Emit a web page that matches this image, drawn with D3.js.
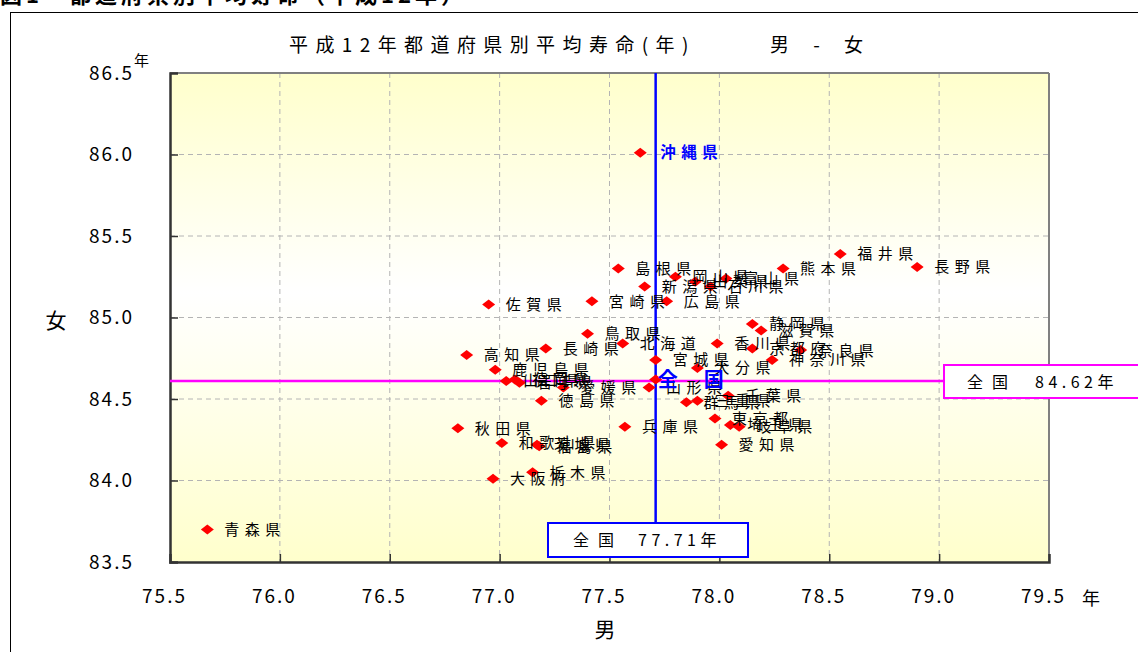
<!DOCTYPE html>
<html><head><meta charset="utf-8">
<script src="https://cdn.jsdelivr.net/npm/d3@7"></script>
<style>
html,body{margin:0;padding:0;background:#fff;overflow:hidden;}
text{font-family:"Noto Sans CJK JP","Liberation Sans",sans-serif;}
</style></head>
<body><svg id="c" width="1138" height="652"></svg>
<script>
const prefectures = ["北海道","青森県","岩手県","宮城県","秋田県","山形県","福島県","茨城県","栃木県","群馬県","埼玉県","千葉県","東京都","神奈川県","新潟県","富山県","石川県","福井県","山梨県","長野県","岐阜県","静岡県","愛知県","三重県","滋賀県","京都府","大阪府","兵庫県","奈良県","和歌山県","鳥取県","島根県","岡山県","広島県","山口県","徳島県","香川県","愛媛県","高知県","福岡県","佐賀県","長崎県","熊本県","大分県","宮崎県","鹿児島県","沖縄県"];
const maleLife = [77.56,75.67,77.09,77.71,76.81,77.68,77.18,77.17,77.15,77.85,78.05,78.04,77.98,78.24,77.66,78.03,77.96,78.55,77.89,78.90,78.09,78.15,78.01,77.90,78.19,78.15,76.97,77.57,78.37,77.01,77.40,77.54,77.80,77.76,77.03,77.19,77.99,77.29,76.85,77.07,76.95,77.21,78.29,77.90,77.42,76.98,77.64];
const femaleLife = [84.84,83.70,84.60,84.74,84.32,84.57,84.21,84.22,84.05,84.48,84.34,84.52,84.38,84.74,85.19,85.24,85.19,85.39,85.22,85.31,84.33,84.96,84.22,84.49,84.92,84.81,84.01,84.33,84.80,84.23,84.90,85.30,85.25,85.10,84.61,84.49,84.84,84.57,84.77,84.62,85.08,84.81,85.30,84.69,85.10,84.68,86.01];
const nationalMale = 77.71;
const nationalFemale = 84.62;
const xTicks = [75.5,76.0,76.5,77.0,77.5,78.0,78.5,79.0,79.5];
const yTicks = [83.5,84.0,84.5,85.0,85.5,86.0,86.5];
const titleText = "平成12年都道府県別平均寿命(年)";
const titleSuffix = "男 - 女";

const svg = d3.select("#c");
const L=170,R=1049,T=73,B=562;
const x = d3.scaleLinear().domain([75.5,79.5]).range([L,R]);
const y = d3.scaleLinear().domain([83.5,86.5]).range([B,T]);

// heading (clipped at top)
svg.append("text").attr("x",0).attr("y",3).attr("font-size",22).attr("font-weight","bold")
  .attr("letter-spacing",4).text("図1　都道府県別平均寿命（平成12年）");

// outer frame
svg.append("rect").attr("x",10.5).attr("y",12.5).attr("width",1300).attr("height",800)
  .attr("fill","none").attr("stroke","#000").attr("stroke-width",1);

// gradient
const defs = svg.append("defs");
const g = defs.append("linearGradient").attr("id","bg").attr("x1",0).attr("y1",0).attr("x2",0).attr("y2",1);
g.append("stop").attr("offset","0%").attr("stop-color","#FFFFCC");
g.append("stop").attr("offset","45%").attr("stop-color","#FFFFFF");
g.append("stop").attr("offset","100%").attr("stop-color","#FFFFCC");
svg.append("rect").attr("x",L).attr("y",T).attr("width",R-L).attr("height",B-T).attr("fill","url(#bg)");

// gridlines
svg.append("g").selectAll("line").data(xTicks.slice(1,-1)).join("line")
  .attr("x1",d=>x(d)).attr("x2",d=>x(d)).attr("y1",T).attr("y2",B)
  .attr("stroke","#b4b4b4").attr("stroke-dasharray","5,4");
svg.append("g").selectAll("line").data(yTicks.slice(1,-1)).join("line")
  .attr("y1",d=>y(d)).attr("y2",d=>y(d)).attr("x1",L).attr("x2",R)
  .attr("stroke","#b4b4b4").attr("stroke-dasharray","5,4");

// border top/right gray
svg.append("line").attr("x1",L).attr("x2",R).attr("y1",T).attr("y2",T).attr("stroke","#808080").attr("stroke-width",2);
svg.append("line").attr("x1",R).attr("x2",R).attr("y1",T).attr("y2",B).attr("stroke","#808080").attr("stroke-width",2);

// axes
const ax = svg.append("g").attr("transform",`translate(0,${B})`)
  .call(d3.axisBottom(x).tickValues(xTicks).tickFormat(d3.format(".1f")).tickSize(-8).tickPadding(28));
const ay = svg.append("g").attr("transform",`translate(${L},0)`)
  .call(d3.axisLeft(y).tickValues(yTicks).tickFormat(d3.format(".1f")).tickSize(-8).tickPadding(36));
[ax,ay].forEach(a=>{
  a.select(".domain").attr("stroke","#333").attr("stroke-width",2.5);
  a.selectAll(".tick line").attr("stroke","#333").attr("stroke-width",1.5);
  a.selectAll(".tick text").attr("font-size",19).attr("fill","#000")
   .attr("font-family","'Liberation Sans',sans-serif").attr("letter-spacing",2);
});
ax.selectAll(".tick text").attr("dx",-6);
ax.selectAll(".tick line").filter(d=>d===75.5||d===79.5).remove();
ay.selectAll(".tick line").filter(d=>d===83.5||d===86.5).remove();

// unit labels
svg.append("text").attr("x",134).attr("y",66).attr("font-size",15).text("年");
svg.append("text").attr("x",1082).attr("y",605).attr("font-size",18).text("年");
svg.append("text").attr("x",605).attr("y",637).attr("text-anchor","middle").attr("font-size",21).text("男");
svg.append("text").attr("x",56).attr("y",328).attr("text-anchor","middle").attr("font-size",21).text("女");

// title
svg.append("text").attr("x",289).attr("y",52).attr("font-size",19).attr("letter-spacing",7.4).text(titleText);
svg.append("text").attr("x",770).attr("y",52).attr("font-size",19).attr("letter-spacing",10).text(titleSuffix);

// reference lines
svg.append("line").attr("x1",x(nationalMale)).attr("x2",x(nationalMale)).attr("y1",T).attr("y2",523)
  .attr("stroke","#0000FF").attr("stroke-width",2.5);
svg.append("line").attr("x1",L).attr("x2",944).attr("y1",y(nationalFemale)+1.5).attr("y2",y(nationalFemale)+1.5)
  .attr("stroke","#FF00FF").attr("stroke-width",2.5);

// points
const data = prefectures.map((n,i)=>({n, m:maleLife[i], f:femaleLife[i]}));
const diamond = d=>{const cx=x(d.m), cy=y(d.f);return `M${cx-6.5},${cy}L${cx},${cy-5}L${cx+6.5},${cy}L${cx},${cy+5}Z`;};
svg.append("g").selectAll("path").data(data.concat([{n:"全国",m:nationalMale,f:nationalFemale}])).join("path")
  .attr("d",diamond).attr("fill","#FF0000");

svg.append("g").selectAll("text").data(data.filter(d=>d.n!=="沖縄県")).join("text")
  .attr("x",d=>x(d.m)+17).attr("y",d=>y(d.f)).attr("dy","0.36em")
  .attr("font-size",15).attr("letter-spacing",5.5).attr("fill","#000").text(d=>d.n);
const ok = data.find(d=>d.n==="沖縄県");
svg.append("text").attr("x",x(ok.m)+20).attr("y",y(ok.f)).attr("dy","0.36em")
  .attr("font-size",15.5).attr("font-weight","bold").attr("letter-spacing",5.5).attr("fill","#0000FF").text(ok.n);

// national label
svg.append("text").attr("x",x(nationalMale)+2).attr("y",y(nationalFemale)).attr("dy","0.36em")
  .attr("font-size",20).attr("font-weight","bold").attr("letter-spacing",26).attr("fill","#0000FF").text("全国");

// boxes
svg.append("rect").attr("x",548).attr("y",523).attr("width",200).attr("height",34)
  .attr("fill","#fff").attr("stroke","#0000FF").attr("stroke-width",2);
svg.append("text").attr("x",573).attr("y",546).attr("font-size",16).attr("letter-spacing",9).text("全国");
svg.append("text").attr("x",638).attr("y",546).attr("font-size",16).attr("letter-spacing",4.5).text("77.71年");
svg.append("rect").attr("x",944).attr("y",365).attr("width",210).attr("height",33)
  .attr("fill","#fff").attr("stroke","#FF00FF").attr("stroke-width",2);
svg.append("text").attr("x",967).attr("y",388).attr("font-size",16).attr("letter-spacing",9).text("全国");
svg.append("text").attr("x",1035).attr("y",388).attr("font-size",16).attr("letter-spacing",4.5).text("84.62年");
</script></body></html>
